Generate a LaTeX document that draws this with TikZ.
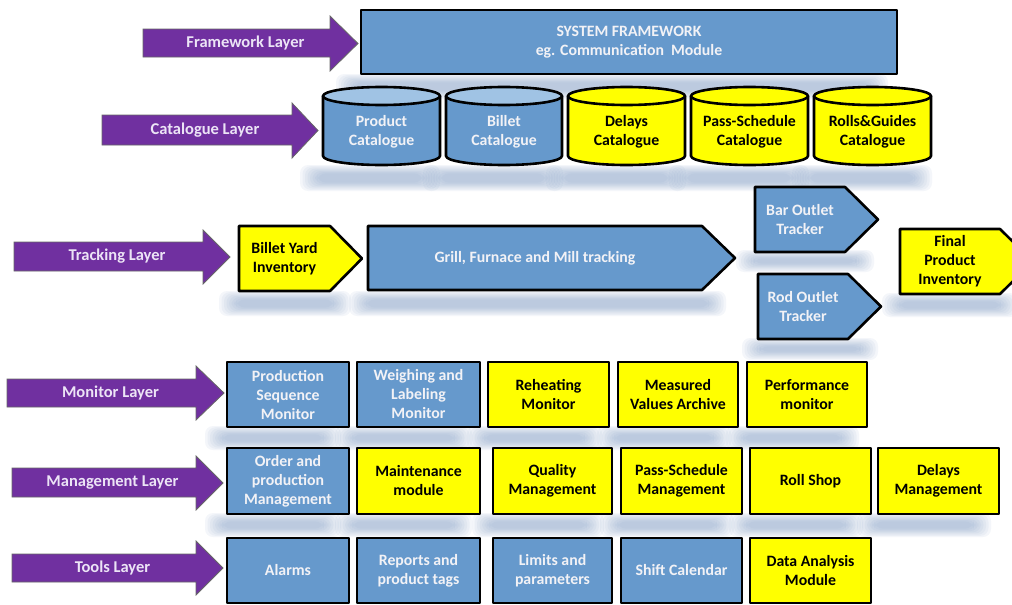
\documentclass[tikz,border=0pt]{standalone}
\usepackage{fontspec}
\setmainfont{Carlito}
\definecolor{purp}{RGB}{112,48,160}
\definecolor{bluef}{RGB}{102,153,204}
\definecolor{bluetop}{RGB}{160,195,228}
\definecolor{yel}{RGB}{255,255,0}
\definecolor{shc}{RGB}{130,160,198}
\definecolor{lbl}{RGB}{236,228,246}
\definecolor{wtxt}{RGB}{242,242,246}
\tikzset{
  lay/.style={fill=purp, draw=black!60, line width=0.8pt, line join=miter},
  laytext/.style={text=lbl, font=\fontsize{16.5}{19}\selectfont\bfseries},
  box/.style={draw=black, line width=2.6pt, line join=round, inner sep=0pt},
  bb/.style={box, fill=bluef},
  yb/.style={box, fill=yel},
  wt/.style={text=wtxt, font=\fontsize{15.8}{19}\selectfont\bfseries, align=center},
  kt/.style={text=black, font=\fontsize{15.8}{19}\selectfont\bfseries, align=center},
}
% layer arrow: name, x0, body top, body bottom, head start, head top, head bottom, tip, text
\newcommand\layarrow[9]{%
  \draw[lay] (#2,#3) -- (#5,#3) -- (#5,#6) -- (#8,{(#6+#7)/2}) -- (#5,#7) -- (#5,#4) -- (#2,#4) -- cycle;
  \node[laytext] (#1) at ({(#2+#8)/2-5},{(#3+#4)/2}) {#9};}
% pentagon: name, fill style, text style, x1, point start, tip, y1, y2, text
\newcommand\pent[9]{%
  \draw[#2] (#4,#7) -- (#5,#7) -- (#6,{(#7+#8)/2}) -- (#5,#8) -- (#4,#8) -- cycle;
  \node[#3] (#1) at ({(#4+#5)/2},{(#7+#8)/2}) {#9};}
% box: name, style, x1, x2, y1, y2, text
\newcommand\boxn[7]{%
  \node[#2, minimum width={(#4-#3)*1pt}, minimum height={(#6-#5)*1pt}] (#1) at ({(#3+#4)/2},{(#5+#6)/2}) {#7};}
% cylinder: name, fill, top fill, text style, x1, x2, text
\newcommand\cyl[7]{%
  \draw[box, fill=#2] (#5,96) -- (#5,156) arc[start angle=180, end angle=0, x radius={(#6-#5)/2}, y radius=9] -- (#6,96) -- cycle;
  \draw[box, fill=#3] ({(#5+#6)/2},96) ellipse [x radius={(#6-#5)/2}, y radius=9];
  \node[#4] (#1) at ({(#5+#6)/2},132) {#7};}
% soft shadow strip
\newcommand\shad[4]{%
  \foreach \i in {0,...,7} {\fill[shc, opacity=0.085, rounded corners=8pt] ({#1-6+\i*2.5},{#3-3+\i*1.2}) rectangle ({#2+6-\i*2.5},{#4+3-\i*1.2});}}
\begin{document}
\begin{tikzpicture}[x=1pt, y=-1pt]
\useasboundingbox (0,0) rectangle (1012,605);
\clip (0,0) rectangle (1012,605);
\fill[white] (0,0) rectangle (1012,605);
% shadows
\shad{342}{882}{77}{96}
\shad{306}{434}{168}{188}
\shad{429}{557}{168}{188}
\shad{552}{680}{168}{188}
\shad{675}{803}{168}{188}
\shad{798}{926}{168}{188}
\shad{225}{345}{294}{313}
\shad{355}{720}{294}{313}
\shad{742}{868}{253}{269}
\shad{748}{872}{341}{357}
\shad{888}{1012}{296}{314}
\shad{211}{335}{429}{447}
\shad{341}{466}{429}{447}
\shad{473}{596}{429}{447}
\shad{603}{725}{429}{447}
\shad{732}{853}{429}{447}
\shad{211}{335}{516}{534}
\shad{341}{466}{516}{534}
\shad{478}{598}{516}{534}
\shad{606}{728}{516}{534}
\shad{735}{857}{516}{534}
\shad{863}{985}{516}{534}
% layer arrows
\layarrow{lfw}{143}{29}{57}{330}{16}{71}{358}{Framework Layer}
\layarrow{lcat}{102}{115}{145}{292}{103}{158}{318}{Catalogue Layer}
\layarrow{ltr}{14}{242}{271}{203}{230}{284}{230}{Tracking Layer}
\layarrow{lmon}{7}{379}{407}{196}{366}{420}{224}{Monitor Layer}
\layarrow{lman}{12}{468}{497}{196}{456}{510}{223}{Management Layer}
\layarrow{ltools}{12}{554}{582}{196}{541}{595}{223}{Tools Layer}
% framework
\boxn{sys}{bb,wt}{361}{897}{10}{74}{SYSTEM FRAMEWORK\\eg. Communication~ Module}
% catalogues
\cyl{cprod}{bluef}{bluetop}{wt}{323}{440}{Product\\Catalogue}
\cyl{cbil}{bluef}{bluetop}{wt}{446}{562}{Billet\\Catalogue}
\cyl{cdel}{yel}{yel}{kt}{568}{685}{Delays\\Catalogue}
\cyl{cpass}{yel}{yel}{kt}{691}{808}{Pass-Schedule\\Catalogue}
\cyl{croll}{yel}{yel}{kt}{814}{931}{Rolls\&Guides\\Catalogue}
% tracking
\pent{tby}{yb}{kt}{239}{330}{362}{226}{291}{Billet Yard\\Inventory}
\pent{tgr}{bb}{wt}{368}{702}{735}{226}{290}{Grill, Furnace and Mill tracking}
\pent{tbar}{bb}{wt}{755}{845}{878}{187}{252}{Bar Outlet\\Tracker}
\pent{trod}{bb}{wt}{758}{848}{881}{274}{339}{Rod Outlet\\Tracker}
\pent{tfin}{yb}{kt}{900}{1000}{1033}{229}{294}{Final\\Product\\Inventory}
% monitor
\boxn{mps}{bb,wt}{227}{349}{362}{427}{Production\\Sequence\\Monitor}
\boxn{mwl}{bb,wt}{357}{480}{362}{427}{Weighing and\\Labeling\\Monitor}
\boxn{mre}{yb,kt}{488}{609}{362}{427}{Reheating\\Monitor}
\boxn{mmv}{yb,kt}{618}{738}{362}{427}{Measured\\Values Archive}
\boxn{mpf}{yb,kt}{747}{867}{362}{427}{Performance\\monitor}
% management
\boxn{gop}{bb,wt}{227}{349}{448}{514}{Order and\\production\\Management}
\boxn{gmm}{yb,kt}{357}{480}{448}{514}{Maintenance\\module}
\boxn{gqm}{yb,kt}{493}{612}{448}{514}{Quality\\Management}
\boxn{gps}{yb,kt}{621}{742}{448}{514}{Pass-Schedule\\Management}
\boxn{grs}{yb,kt}{750}{871}{448}{514}{Roll Shop}
\boxn{gdm}{yb,kt}{878}{999}{448}{514}{Delays\\Management}
% tools
\boxn{tal}{bb,wt}{227}{349}{538}{603}{Alarms}
\boxn{trp}{bb,wt}{357}{480}{538}{603}{Reports and\\product tags}
\boxn{tlp}{bb,wt}{493}{612}{538}{603}{Limits and\\parameters}
\boxn{tsc}{bb,wt}{621}{742}{538}{603}{Shift Calendar}
\boxn{tda}{yb,kt}{750}{871}{538}{603}{Data Analysis\\Module}
\end{tikzpicture}
\end{document}
